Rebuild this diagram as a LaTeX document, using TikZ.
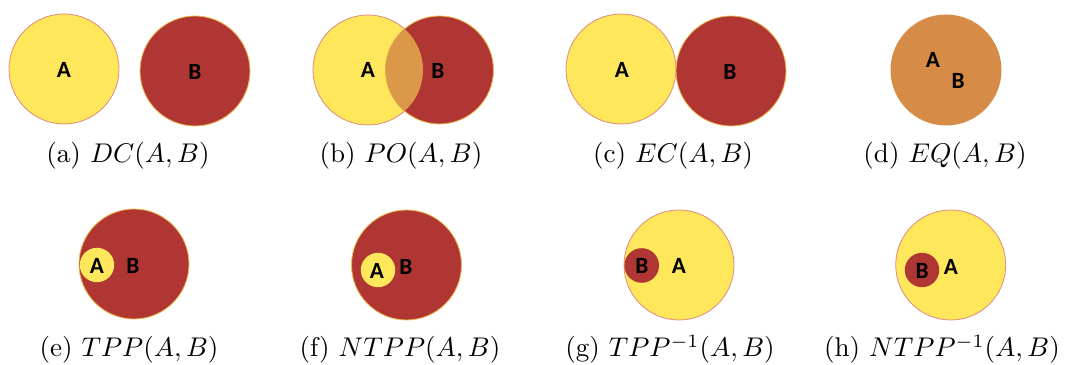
\documentclass[tikz,border=0pt]{standalone}
\usepackage{fontspec}
\usepackage{tikz}
\newfontfamily\lblfont{Carlito}

\definecolor{regyellow}{RGB}{255,231,92}
\definecolor{regred}{RGB}{176,54,52}
\definecolor{regorange}{RGB}{214,139,70}
\definecolor{ovlorange}{RGB}{218,152,72}
\definecolor{rimyellow}{RGB}{220,140,125}
\definecolor{rimred}{RGB}{240,186,80}

\tikzset{
  regA/.style={fill=regyellow, draw=rimyellow, line width=0.3pt},
  regB/.style={fill=regred, draw=rimred, line width=0.3pt},
  lbl/.style={font=\lblfont\bfseries\fontsize{8.6}{10}\selectfont, inner sep=0pt},
  subcap/.style={anchor=base, inner sep=0pt}
}

\begin{document}
\begin{tikzpicture}[x=0.37pt, y=-0.37pt]
\useasboundingbox (0,0) rectangle (1066,365);

% top row: DC, PO, EC, EQ
\path[regA] (64,69) circle (55);
\path[regB] (195,71) circle (55);
\node (a-A) at (64,70) [lbl] {A};
\node (a-B) at (195,72) [lbl] {B};

\path[regA] (368,70) circle (55);
\path[regB] (439.5,70) circle (54);
\begin{scope}
  \clip (368,70) circle (55);
  \fill[ovlorange] (439.5,70) circle (54);
\end{scope}
\node (b-A) at (368,70) [lbl] {A};
\node (b-B) at (438,71) [lbl] {B};

\path[regA] (621,69) circle (55);
\path[regB] (731,71) circle (55);
\node (c-A) at (622,70) [lbl] {A};
\node (c-B) at (730,72) [lbl] {B};

\fill[regorange] (946,70) circle (55.5);
\node (d-A) at (933,60) [lbl] {A};
\node (d-B) at (958,81) [lbl] {B};

% bottom row: TPP, NTPP and their inverses
\path[regB] (134,264) circle (55);
\fill[regyellow] (97,265) circle (17.2);
\node (e-A) at (97,266) [lbl] {A};
\node (e-B) at (133,266) [lbl] {B};

\path[regB] (406.5,265) circle (55);
\fill[regyellow] (378,270) circle (17.2);
\node (f-A) at (377,271) [lbl] {A};
\node (f-B) at (406,267) [lbl] {B};

\path[regA] (679,265) circle (55);
\fill[regred] (641.7,265.5) circle (17.3);
\node (g-B) at (642,266) [lbl] {B};
\node (g-A) at (679,266) [lbl] {A};

\path[regA] (950.7,265) circle (55);
\fill[regred] (922,270) circle (17.2);
\node (h-B) at (922,271) [lbl] {B};
\node (h-A) at (951,267) [lbl] {A};

% sub-captions
\foreach \n/\x/\y/\t in {a/128/163/{$DC(A,B)$}, b/401/163/{$PO(A,B)$},
    c/673/163/{$EC(A,B)$}, d/945/163/{$EQ(A,B)$},
    e/129/357/{$TPP(A,B)$}, f/400/357/{$NTPP(A,B)$},
    g/670/357/{$TPP^{-1}(A,B)$}, h/942/357/{$NTPP^{-1}(A,B)$}}
  { \node (cap-\n) at (\x,\y) [subcap] {(\n) \t}; }

\end{tikzpicture}
\end{document}
